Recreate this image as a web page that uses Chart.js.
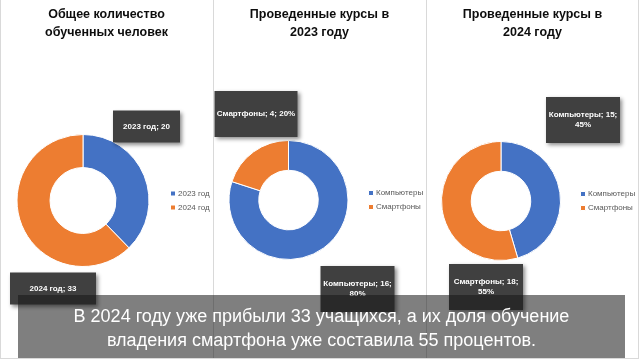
<!DOCTYPE html>
<html><head><meta charset="utf-8">
<script src="https://cdn.jsdelivr.net/npm/chart.js@4.4.1/dist/chart.umd.min.js"></script>
<style>
html,body{margin:0;padding:0;background:#fff;width:640px;height:360px;overflow:hidden}
.panel{position:absolute;top:0;width:213px;height:360px}
.panel canvas{display:block}
.line{position:absolute;background:#d9d9d9}
#band{position:absolute;left:18px;top:295px;width:607px;height:63px;background:rgba(22,22,22,0.55);color:#fff;font-family:'Liberation Sans',Arial,sans-serif;font-size:18px;line-height:24px;text-align:center;padding-top:9px;box-sizing:border-box;z-index:5;white-space:nowrap}
</style></head><body>
<div class="panel" style="left:0"><canvas id="c1" width="213" height="360"></canvas></div>
<div class="panel" style="left:213px"><canvas id="c2" width="213" height="360"></canvas></div>
<div class="panel" style="left:426px"><canvas id="c3" width="213" height="360"></canvas></div>
<div class="line" style="left:0;top:0;width:1px;height:358px"></div>
<div class="line" style="left:213px;top:0;width:1px;height:358px"></div>
<div class="line" style="left:426px;top:0;width:1px;height:358px"></div>
<div class="line" style="left:638px;top:0;width:1px;height:358px"></div>
<div class="line" style="left:0;top:358px;width:639px;height:1px"></div>
<div id="band">В 2024 году уже прибыли 33 учащихся, а их доля обучение<br>владения смартфона уже составила 55 процентов.</div>
<script>
// ---- data ----
const totalTitle = ['Общее количество', 'обученных человек'];
const totalCategories = ['2023 год', '2024 год'];
const totalValues = [20, 33];

const courseCategories = ['Компьютеры', 'Смартфоны'];
const title2023 = ['Проведенные курсы в', '2023 году'];
const courses2023 = [16, 4];
const title2024 = ['Проведенные курсы в', '2024 году'];
const courses2024 = [15, 18];

const seriesColors = ['#4472C4', '#ED7D31'];

// ---- label box plugin ----
const boxLabels = {
  id: 'boxLabels',
  afterDatasetsDraw(chart, args, opts) {
    if (!opts.items) return;
    const meta = chart.getDatasetMeta(0);
    const arc = meta.data[0];
    const cx = arc.x, cy = arc.y;
    const ds = chart.data.datasets[0];
    const total = ds.data.reduce((a, b) => a + b, 0);
    const ctx = chart.ctx;
    ctx.save();
    opts.items.forEach(it => {
      const v = ds.data[it.index];
      const cat = chart.data.labels[it.index];
      let lines;
      if (opts.percent) {
        const pct = Math.round(v / total * 100) + '%';
        lines = it.wrap ? [cat + '; ' + v + ';', pct] : [cat + '; ' + v + '; ' + pct];
      } else {
        lines = [cat + '; ' + v];
      }
      const x = cx + it.dx, y = cy + it.dy;
      ctx.shadowColor = 'rgba(0,0,0,0.45)';
      ctx.shadowBlur = 4;
      ctx.shadowOffsetX = 2;
      ctx.shadowOffsetY = 2;
      ctx.fillStyle = '#404040';
      ctx.fillRect(x, y, it.w, it.h);
      ctx.shadowColor = 'transparent';
      ctx.fillStyle = '#ffffff';
      ctx.font = 'bold 8px "Liberation Sans", Arial, sans-serif';
      ctx.textAlign = 'center';
      ctx.textBaseline = 'middle';
      const lh = 10;
      const startY = y + it.h / 2 - (lines.length - 1) * lh / 2;
      lines.forEach((t, k) => ctx.fillText(t, x + it.w / 2, startY + k * lh));
    });
    ctx.restore();
  }
};

function makeChart(id, titleLines, labels, values, cfg) {
  return new Chart(document.getElementById(id), {
    type: 'doughnut',
    data: {
      labels: labels,
      datasets: [{
        data: values,
        backgroundColor: seriesColors,
        borderColor: '#ffffff',
        borderWidth: 1,
        hoverOffset: 0
      }]
    },
    options: {
      responsive: false,
      animation: false,
      cutout: '50%',
      layout: { padding: { left: 0, right: 0, top: 0, bottom: cfg.padBottom } },
      plugins: {
        title: {
          display: true,
          text: titleLines,
          color: '#0d0d0d',
          font: { family: '"Liberation Sans", Arial, sans-serif', size: 12.5, weight: 'bold', lineHeight: '18px' },
          padding: { top: 6, bottom: cfg.titleBottom }
        },
        legend: {
          display: true,
          position: 'right',
          fullSize: false,
          maxWidth: cfg.legendWidth,
          labels: {
            usePointStyle: true,
            pointStyle: 'rect',
            boxWidth: 2,
            boxHeight: 5,
            padding: 6,
            color: '#595959',
            font: { family: '"Liberation Sans", Arial, sans-serif', size: 8 }
          }
        },
        tooltip: { enabled: false },
        boxLabels: { percent: cfg.percent, items: cfg.items }
      }
    },
    plugins: [boxLabels]
  });
}

makeChart('c1', totalTitle, totalCategories, totalValues, {
  padBottom: 93, titleBottom: 92, legendWidth: 47, percent: false,
  items: [
    { index: 0, dx: 30, dy: -90, w: 67, h: 32 },
    { index: 1, dx: -73, dy: 72, w: 86, h: 32 }
  ]
});
makeChart('c2', title2023, courseCategories, courses2023, {
  padBottom: 100, titleBottom: 98, legendWidth: 62, percent: true,
  items: [
    { index: 1, dx: -74, dy: -109, w: 83, h: 46, wrap: false },
    { index: 0, dx: 32, dy: 66, w: 74, h: 46, wrap: true }
  ]
});
makeChart('c3', title2024, courseCategories, courses2024, {
  padBottom: 99, titleBottom: 99, legendWidth: 63, percent: true,
  items: [
    { index: 0, dx: 45, dy: -104, w: 74, h: 46, wrap: true },
    { index: 1, dx: -52, dy: 63, w: 74, h: 46, wrap: true }
  ]
});
</script>
</body></html>
